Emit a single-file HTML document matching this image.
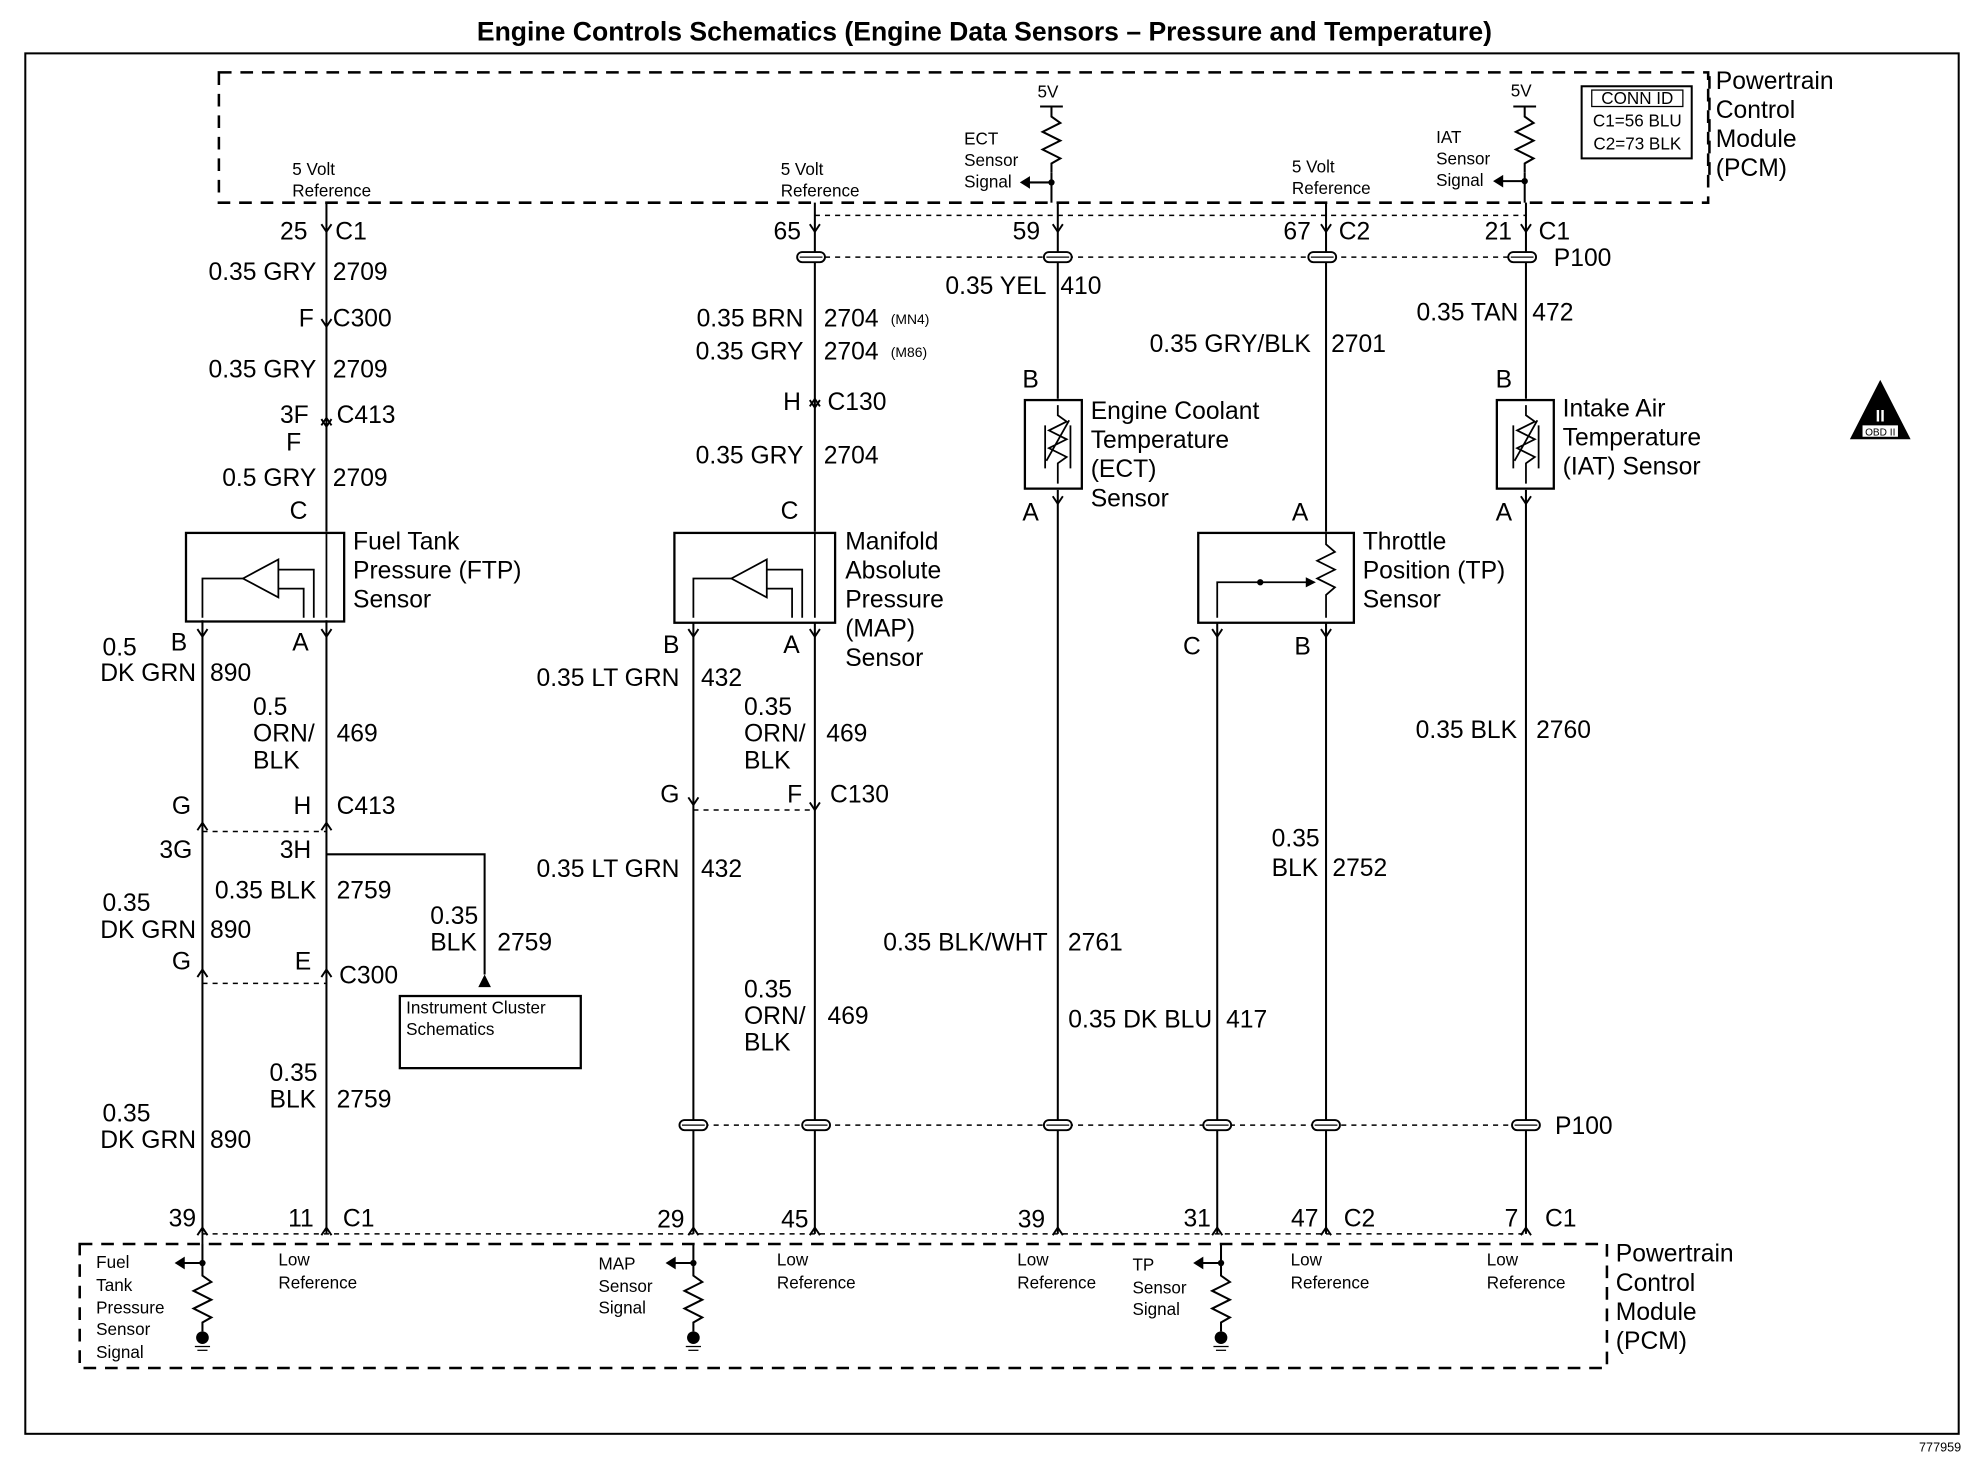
<!DOCTYPE html>
<html><head><meta charset="utf-8"><style>
html,body{margin:0;padding:0;background:#fff}
svg{display:block}
text{font-family:"Liberation Sans",Arial,sans-serif;fill:#000}
.w{font-size:19.5px}
.s{font-size:13.5px}
.m{font-size:19.5px}
</style></head><body>
<svg width="1984" height="1472" viewBox="0 0 1568 1163" xmlns="http://www.w3.org/2000/svg">
<defs>
<g id="dn"><path d="M-4,-6 L0,0 L4,-6" fill="none" stroke="#000" stroke-width="1.5"/></g>
<g id="up"><path d="M-4,6 L0,0 L4,6" fill="none" stroke="#000" stroke-width="1.5"/></g>
<g id="pp"><rect x="-11" y="-4" width="22" height="8" rx="4" fill="#fff" stroke="#000" stroke-width="1.5"/><line x1="-9" y1="0" x2="9" y2="0" stroke="#000" stroke-width="1"/></g>
<g id="res"><path d="M0,0 L0,8 L7,13 L-7,20 L7,27 L-7,34 L7,41 L0,45 L0,52" fill="none" stroke="#000" stroke-width="1.6"/></g>
</defs>
<rect width="1568" height="1163" fill="#fff"/>
<text x="778" y="32" font-size="21" font-weight="bold" text-anchor="middle">Engine Controls Schematics (Engine Data Sensors – Pressure and Temperature)</text>
<rect x="20" y="42" width="1528" height="1091" fill="none" stroke="#000" stroke-width="1.6"/>
<text x="1550" y="1147" font-size="10" text-anchor="end">777959</text>

<g fill="none" stroke="#000" stroke-width="2" stroke-dasharray="10,7">
<rect x="173" y="57" width="1177" height="103"/>
<rect x="63" y="983" width="1207" height="98"/>
</g>
<g fill="none" stroke="#000" stroke-width="1.2" stroke-dasharray="4,4">
<line x1="644" y1="170" x2="1206" y2="170"/>
<line x1="644" y1="203" x2="1206" y2="203"/>
<line x1="548" y1="889" x2="1206" y2="889"/>
<line x1="160" y1="657" x2="258" y2="657"/>
<line x1="160" y1="777" x2="258" y2="777"/>
<line x1="548" y1="640" x2="644" y2="640"/>
<line x1="160" y1="975" x2="1206" y2="975"/>
</g>

<text class="m" x="1356" y="70">Powertrain</text><text class="m" x="1356" y="93">Control</text><text class="m" x="1356" y="116">Module</text><text class="m" x="1356" y="139">(PCM)</text>
<line x1="1351" y1="60" x2="1351" y2="140" stroke="#000" stroke-width="2" stroke-dasharray="10,7"/>
<text class="m" x="1277" y="997">Powertrain</text><text class="m" x="1277" y="1020">Control</text><text class="m" x="1277" y="1043">Module</text><text class="m" x="1277" y="1066">(PCM)</text>
<rect x="1250" y="68" width="87" height="57" fill="none" stroke="#000" stroke-width="1.6"/>
<rect x="1258" y="71" width="72" height="13" fill="none" stroke="#000" stroke-width="1"/>
<text class="s" x="1294" y="82" text-anchor="middle">CONN ID</text>
<text class="s" x="1294" y="100" text-anchor="middle">C1=56 BLU</text>
<text class="s" x="1294" y="118" text-anchor="middle">C2=73 BLK</text>

<text class="s" x="231" y="138">5 Volt</text><text class="s" x="231" y="155">Reference</text>
<text class="s" x="617" y="138">5 Volt</text><text class="s" x="617" y="155">Reference</text>
<text class="s" x="1021" y="136">5 Volt</text><text class="s" x="1021" y="153">Reference</text>
<text class="s" x="762" y="114">ECT</text><text class="s" x="762" y="131">Sensor</text><text class="s" x="762" y="148">Signal</text>
<text class="s" x="1135" y="113">IAT</text><text class="s" x="1135" y="130">Sensor</text><text class="s" x="1135" y="147">Signal</text>
<text class="s" x="820" y="77">5V</text><text class="s" x="1194" y="76">5V</text>
<line x1="822" y1="84" x2="840" y2="84" stroke="#000" stroke-width="1.6"/>
<line x1="1196" y1="84" x2="1214" y2="84" stroke="#000" stroke-width="1.6"/>
<use href="#res" x="831" y="84"/><line x1="831" y1="136" x2="831" y2="160" stroke="#000" stroke-width="1.6"/>
<use href="#res" x="1205" y="84"/><line x1="1205" y1="136" x2="1205" y2="160" stroke="#000" stroke-width="1.6"/>
<line x1="812" y1="144" x2="831" y2="144" stroke="#000" stroke-width="1.6"/><path d="M806,144 L814,139 L814,149Z"/><circle cx="831" cy="144" r="2.5"/>
<line x1="1186" y1="143" x2="1205" y2="143" stroke="#000" stroke-width="1.6"/><path d="M1180,143 L1188,138 L1188,148Z"/><circle cx="1205" cy="143" r="2.5"/>

<text class="s" x="76" y="1002">Fuel</text><text class="s" x="76" y="1020">Tank</text><text class="s" x="76" y="1038">Pressure</text><text class="s" x="76" y="1055">Sensor</text><text class="s" x="76" y="1073">Signal</text>
<text class="s" x="220" y="1000">Low</text><text class="s" x="220" y="1018">Reference</text>
<text class="s" x="473" y="1003">MAP</text><text class="s" x="473" y="1021">Sensor</text><text class="s" x="473" y="1038">Signal</text>
<text class="s" x="614" y="1000">Low</text><text class="s" x="614" y="1018">Reference</text>
<text class="s" x="804" y="1000">Low</text><text class="s" x="804" y="1018">Reference</text>
<text class="s" x="895" y="1004">TP</text><text class="s" x="895" y="1022">Sensor</text><text class="s" x="895" y="1039">Signal</text>
<text class="s" x="1020" y="1000">Low</text><text class="s" x="1020" y="1018">Reference</text>
<text class="s" x="1175" y="1000">Low</text><text class="s" x="1175" y="1018">Reference</text>
<g stroke="#000" stroke-width="1.6" fill="none">
<line x1="160" y1="983" x2="160" y2="1000"/><line x1="143" y1="998" x2="160" y2="998"/>
<line x1="548" y1="983" x2="548" y2="1000"/><line x1="531" y1="998" x2="548" y2="998"/>
<line x1="965" y1="983" x2="965" y2="1000"/><line x1="948" y1="998" x2="965" y2="998"/>
</g>
<g><path d="M138,998 L146,993 L146,1003Z"/><path d="M526,998 L534,993 L534,1003Z"/><path d="M943,998 L951,993 L951,1003Z"/>
<circle cx="160" cy="998" r="2.5"/><circle cx="548" cy="998" r="2.5"/><circle cx="965" cy="998" r="2.5"/>
<circle cx="160" cy="1057" r="5"/><circle cx="548" cy="1057" r="5"/><circle cx="965" cy="1057" r="5"/></g>
<use href="#res" x="160" y="1000"/><use href="#res" x="548" y="1000"/><use href="#res" x="965" y="1000"/>
<g stroke="#000" stroke-width="1"><line x1="154" y1="1064" x2="166" y2="1064"/><line x1="156" y1="1067" x2="164" y2="1067"/><line x1="542" y1="1064" x2="554" y2="1064"/><line x1="544" y1="1067" x2="552" y2="1067"/><line x1="959" y1="1064" x2="971" y2="1064"/><line x1="961" y1="1067" x2="969" y2="1067"/></g>
<g stroke="#000" stroke-width="1.5"><line x1="160" y1="975" x2="160" y2="983"/></g>

<g stroke="#000" stroke-width="1.6" fill="none">
<line x1="258" y1="160" x2="258" y2="420"/><line x1="258" y1="490" x2="258" y2="975"/>
<line x1="160" y1="490" x2="160" y2="975"/>
<line x1="644" y1="160" x2="644" y2="420"/><line x1="644" y1="492" x2="644" y2="975"/>
<line x1="548" y1="492" x2="548" y2="975"/>
<line x1="836" y1="160" x2="836" y2="315"/><line x1="836" y1="387" x2="836" y2="975"/>
<line x1="1206" y1="160" x2="1206" y2="315"/><line x1="1206" y1="387" x2="1206" y2="975"/>
<line x1="1048" y1="160" x2="1048" y2="420"/><line x1="1048" y1="492" x2="1048" y2="975"/>
<line x1="962" y1="492" x2="962" y2="975"/>
<polyline points="258,675 383,675 383,770"/>
</g>
<path d="M383,770 L378,780 L388,780Z"/>
<rect x="316" y="787" width="143" height="57" fill="none" stroke="#000" stroke-width="1.8"/>
<text class="s" x="321" y="801">Instrument Cluster</text><text class="s" x="321" y="818">Schematics</text>

<use href="#dn" x="258" y="183"/><use href="#dn" x="644" y="183"/><use href="#dn" x="836" y="183"/><use href="#dn" x="1048" y="183"/><use href="#dn" x="1206" y="183"/>
<use href="#dn" x="258" y="258"/><use href="#dn" x="258" y="337"/><use href="#up" x="258" y="330"/><use href="#dn" x="644" y="322"/><use href="#up" x="644" y="315"/>
<use href="#dn" x="160" y="503"/><use href="#dn" x="258" y="503"/><use href="#dn" x="548" y="503"/><use href="#dn" x="644" y="503"/><use href="#dn" x="962" y="503"/><use href="#dn" x="1048" y="503"/><use href="#dn" x="836" y="398"/><use href="#dn" x="1206" y="398"/>
<use href="#up" x="160" y="650"/><use href="#up" x="258" y="650"/><use href="#dn" x="548" y="636"/><use href="#dn" x="644" y="640"/>
<use href="#up" x="160" y="766"/><use href="#up" x="258" y="766"/>
<use href="#up" x="160" y="970"/><use href="#up" x="258" y="970"/><use href="#up" x="548" y="970"/><use href="#up" x="644" y="970"/><use href="#up" x="836" y="970"/><use href="#up" x="962" y="970"/><use href="#up" x="1048" y="970"/><use href="#up" x="1206" y="970"/>
<use href="#pp" x="641" y="203"/><use href="#pp" x="836" y="203"/><use href="#pp" x="1045" y="203"/><use href="#pp" x="1203" y="203"/>
<use href="#pp" x="548" y="889"/><use href="#pp" x="645" y="889"/><use href="#pp" x="836" y="889"/><use href="#pp" x="962" y="889"/><use href="#pp" x="1048" y="889"/><use href="#pp" x="1206" y="889"/>

<g stroke="#000" stroke-width="1.8" fill="none">
<rect x="147" y="421" width="125" height="70"/>
<rect x="533" y="421" width="127" height="71"/>
<rect x="810" y="316" width="45" height="70"/>
<rect x="1183" y="316" width="45" height="70"/>
<rect x="947" y="421" width="123" height="71"/>
</g>
<g stroke="#000" stroke-width="1.4" fill="none">
<path d="M258,421 L258,488"/><path d="M192,457 L220,442 L220,472Z"/><path d="M220,450 L248,450 L248,488 M220,465 L240,465 L240,488 M192,457 L160,457 L160,488"/>
<path d="M644,421 L644,488"/><path d="M578,457 L606,442 L606,472Z"/><path d="M606,450 L634,450 L634,488 M606,465 L626,465 L626,488 M578,457 L548,457 L548,488"/>
<path d="M836,320 L836,328 L843,333 L829,340 L843,347 L829,354 L843,361 L836,366 L836,382 M827,364 L845,332 M826,336 L826,370 M846,336 L846,370"/>
<path d="M1206,320 L1206,328 L1213,333 L1199,340 L1213,347 L1199,354 L1213,361 L1206,366 L1206,382 M1197,364 L1215,332 M1196,336 L1196,370 M1216,336 L1216,370"/>
<path d="M1048,421 L1048,430 L1055,436 L1041,443 L1055,450 L1041,457 L1055,464 L1048,470 L1048,488 M962,488 L962,460 L1035,460"/>
</g>
<circle cx="996" cy="460" r="2.5"/><path d="M1040,460 L1032,456 L1032,464Z"/>

<text class="w" x="279" y="434">Fuel Tank</text><text class="w" x="279" y="457">Pressure (FTP)</text><text class="w" x="279" y="480">Sensor</text>
<text class="w" x="668" y="434">Manifold</text><text class="w" x="668" y="457">Absolute</text><text class="w" x="668" y="480">Pressure</text><text class="w" x="668" y="503">(MAP)</text><text class="w" x="668" y="526">Sensor</text>
<text class="w" x="862" y="331">Engine Coolant</text><text class="w" x="862" y="354">Temperature</text><text class="w" x="862" y="377">(ECT)</text><text class="w" x="862" y="400">Sensor</text>
<text class="w" x="1235" y="329">Intake Air</text><text class="w" x="1235" y="352">Temperature</text><text class="w" x="1235" y="375">(IAT) Sensor</text>
<text class="w" x="1077" y="434">Throttle</text><text class="w" x="1077" y="457">Position (TP)</text><text class="w" x="1077" y="480">Sensor</text>

<path d="M1486,300 L1510,347 L1462,347Z"/>
<text x="1486" y="333" font-size="13" font-weight="bold" text-anchor="middle" style="fill:#fff">II</text>
<rect x="1472" y="336" width="28" height="9" fill="#fff"/><text x="1486" y="344" font-size="8" text-anchor="middle">OBD II</text>

<g class="w">
<text x="243" y="189" text-anchor="end">25</text><text x="265" y="189">C1</text>
<text x="250" y="221" text-anchor="end">0.35 GRY</text><text x="263" y="221">2709</text>
<text x="248" y="258" text-anchor="end">F</text><text x="263" y="258">C300</text>
<text x="250" y="298" text-anchor="end">0.35 GRY</text><text x="263" y="298">2709</text>
<text x="244" y="334" text-anchor="end">3F</text><text x="266" y="334">C413</text>
<text x="238" y="356" text-anchor="end">F</text>
<text x="250" y="384" text-anchor="end">0.5 GRY</text><text x="263" y="384">2709</text>
<text x="243" y="410" text-anchor="end">C</text>
<text x="148" y="514" text-anchor="end">B</text><text x="244" y="514" text-anchor="end">A</text>
<text x="81" y="518">0.5</text><text x="155" y="538" text-anchor="end">DK GRN</text><text x="166" y="538">890</text>
<text x="200" y="565">0.5</text><text x="200" y="586">ORN/</text><text x="200" y="607">BLK</text><text x="266" y="586">469</text>
<text x="151" y="643" text-anchor="end">G</text><text x="246" y="643" text-anchor="end">H</text><text x="266" y="643">C413</text>
<text x="152" y="678" text-anchor="end">3G</text><text x="246" y="678" text-anchor="end">3H</text>
<text x="250" y="710" text-anchor="end">0.35 BLK</text><text x="266" y="710">2759</text>
<text x="81" y="720">0.35</text><text x="155" y="741" text-anchor="end">DK GRN</text><text x="166" y="741">890</text>
<text x="340" y="730">0.35</text><text x="340" y="751">BLK</text><text x="393" y="751">2759</text>
<text x="151" y="766" text-anchor="end">G</text><text x="246" y="766" text-anchor="end">E</text><text x="268" y="777">C300</text>
<text x="213" y="854">0.35</text><text x="213" y="875">BLK</text><text x="266" y="875">2759</text>
<text x="81" y="886">0.35</text><text x="155" y="907" text-anchor="end">DK GRN</text><text x="166" y="907">890</text>
<text x="155" y="969" text-anchor="end">39</text><text x="248" y="969" text-anchor="end">11</text><text x="271" y="969">C1</text>

<text x="633" y="189" text-anchor="end">65</text>
<text x="635" y="258" text-anchor="end">0.35 BRN</text><text x="651" y="258">2704</text><text x="704" y="256" font-size="11">(MN4)</text>
<text x="635" y="284" text-anchor="end">0.35 GRY</text><text x="651" y="284">2704</text><text x="704" y="282" font-size="11">(M86)</text>
<text x="633" y="324" text-anchor="end">H</text><text x="654" y="324">C130</text>
<text x="635" y="366" text-anchor="end">0.35 GRY</text><text x="651" y="366">2704</text>
<text x="631" y="410" text-anchor="end">C</text>
<text x="537" y="516" text-anchor="end">B</text><text x="632" y="516" text-anchor="end">A</text>
<text x="537" y="542" text-anchor="end">0.35 LT GRN</text><text x="554" y="542">432</text>
<text x="588" y="565">0.35</text><text x="588" y="586">ORN/</text><text x="588" y="607">BLK</text><text x="653" y="586">469</text>
<text x="537" y="634" text-anchor="end">G</text><text x="634" y="634" text-anchor="end">F</text><text x="656" y="634">C130</text>
<text x="537" y="693" text-anchor="end">0.35 LT GRN</text><text x="554" y="693">432</text>
<text x="588" y="788">0.35</text><text x="588" y="809">ORN/</text><text x="588" y="830">BLK</text><text x="654" y="809">469</text>
<text x="541" y="970" text-anchor="end">29</text><text x="639" y="970" text-anchor="end">45</text>

<text x="822" y="189" text-anchor="end">59</text>
<text x="827" y="232" text-anchor="end">0.35 YEL</text><text x="838" y="232">410</text>
<text x="821" y="306" text-anchor="end">B</text><text x="821" y="411" text-anchor="end">A</text>
<text x="828" y="751" text-anchor="end">0.35 BLK/WHT</text><text x="844" y="751">2761</text>
<text x="958" y="812" text-anchor="end">0.35 DK BLU</text><text x="969" y="812">417</text>
<text x="826" y="970" text-anchor="end">39</text><text x="957" y="969" text-anchor="end">31</text>

<text x="1036" y="189" text-anchor="end">67</text><text x="1058" y="189">C2</text>
<text x="1036" y="278" text-anchor="end">0.35 GRY/BLK</text><text x="1052" y="278">2701</text>
<text x="1034" y="411" text-anchor="end">A</text>
<text x="949" y="517" text-anchor="end">C</text><text x="1036" y="517" text-anchor="end">B</text>
<text x="1005" y="669">0.35</text><text x="1005" y="692">BLK</text><text x="1053" y="692">2752</text>
<text x="1042" y="969" text-anchor="end">47</text><text x="1062" y="969">C2</text>

<text x="1195" y="189" text-anchor="end">21</text><text x="1216" y="189">C1</text><text x="1228" y="210">P100</text>
<text x="1200" y="253" text-anchor="end">0.35 TAN</text><text x="1211" y="253">472</text>
<text x="1195" y="306" text-anchor="end">B</text><text x="1195" y="411" text-anchor="end">A</text>
<text x="1199" y="583" text-anchor="end">0.35 BLK</text><text x="1214" y="583">2760</text>
<text x="1229" y="896">P100</text>
<text x="1200" y="969" text-anchor="end">7</text><text x="1221" y="969">C1</text>
</g>
</svg>
</body></html>
